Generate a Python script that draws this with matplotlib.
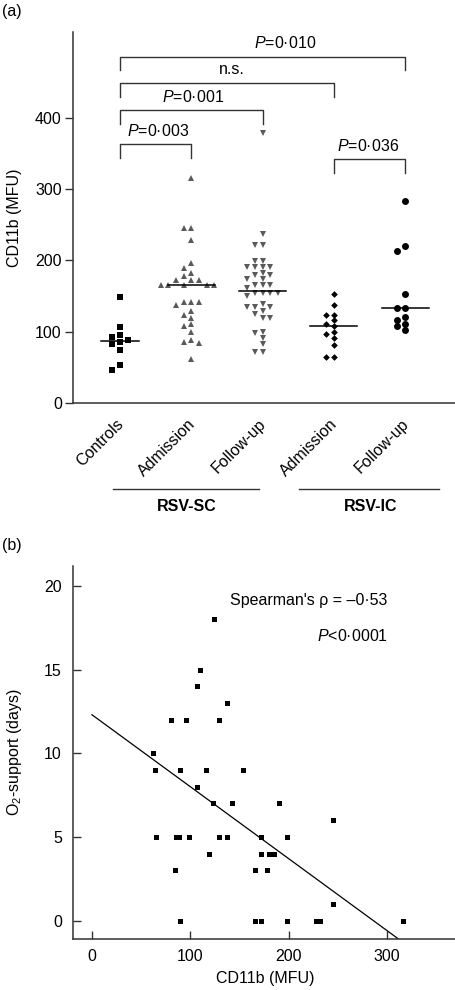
import numpy as np
import matplotlib
matplotlib.use('Agg')
import matplotlib.pyplot as plt
from matplotlib.transforms import ScaledTranslation, blended_transform_factory

plt.rcParams['font.family'] = ['Liberation Sans', 'DejaVu Sans']
plt.rcParams['mathtext.fontset'] = 'custom'
plt.rcParams['mathtext.rm'] = 'Liberation Sans'
plt.rcParams['mathtext.it'] = 'Liberation Sans:italic'
plt.rcParams['font.size'] = 11.5

# ---- dados painel (a): CD11b (MFU) por grupo
grupos = ['Controls', 'Admission', 'Follow-up', 'Admission', 'Follow-up']
controls = [148, 107, 96, 93, 89, 86, 83, 74, 53, 46]
sc_admission = [315, 245, 245, 228, 197, 190, 183, 178, 172, 172, 172, 165, 165, 165, 165,
                165, 142, 142, 142, 138, 129, 124, 119, 111, 108, 99, 89, 86, 84, 62]
sc_followup = [379, 237, 221, 221, 199, 199, 191, 191, 191, 191, 182, 179, 179, 174, 174,
               166, 166, 166, 161, 154, 154, 154, 154, 150, 139, 135, 135, 135, 129, 125,
               119, 119, 100, 98, 91, 82, 72, 72]
ic_admission = [153, 138, 124, 124, 116, 111, 108, 100, 97, 91, 81, 65, 65]
ic_followup = [284, 220, 213, 153, 133, 133, 120, 116, 111, 108, 103]

# comparacoes (grupo i, grupo j, texto)
comp_pares = [(1, 2), (1, 3), (1, 4), (1, 5), (4, 5)]
comp_textos = ['$P$=0·003', '$P$=0·001', 'n.s.', '$P$=0·010', '$P$=0·036']
comp_altura = [363, 411, 449, 486, 342]

# ---- dados painel (b): O2-support vs CD11b
cd11b = [62, 64, 90, 116, 154, 107, 123, 142, 190, 245, 65, 85, 88, 99, 129, 137, 172, 198,
         119, 172, 180, 185, 84, 166, 178, 245, 90, 166, 172, 198, 228, 232, 316,
         124, 110, 107, 137, 80, 96, 129]
o2_dias = [10, 9, 9, 9, 9, 8, 7, 7, 7, 6, 5, 5, 5, 5, 5, 5, 5, 5,
           4, 4, 4, 4, 3, 3, 3, 1, 0, 0, 0, 0, 0, 0, 0,
           18, 15, 14, 13, 12, 12, 12]
reta_intercepto = 12.3
reta_inclinacao = -0.043
reta_x = [0, 313]

fig = plt.figure(figsize=(4.56, 9.9), dpi=100)
cinza_eixo = '#333333'


def swarm_x(ax, xc, vals, dx, dy):
    # espalha os pontos na horizontal para nao sobrepor (em pixels)
    pts = ax.transData.transform(np.column_stack([np.full(len(vals), xc), vals]))
    ordem = np.argsort(vals)[::-1]
    colocados = []
    saida = pts.copy()
    passos = [0] + [s * k for k in range(1, 14) for s in (-1, 1)]
    for i in ordem:
        x0, y0 = pts[i]
        cx = x0
        for k in passos:
            cx = x0 + k * dx / 2
            if all(abs(cx - px) >= dx * 0.95 or abs(y0 - py) >= dy for px, py in colocados):
                break
        colocados.append((cx, y0))
        saida[i, 0] = cx
    return ax.transData.inverted().transform(saida)[:, 0]


# ================= painel (a)
ax = fig.add_axes([0.160, 0.593, 0.838, 0.375])
ax.set_xlim(0.34, 5.70)
ax.set_ylim(0, 521)
for s in ['top', 'right']:
    ax.spines[s].set_visible(False)
for s in ['left', 'bottom']:
    ax.spines[s].set_color(cinza_eixo)
    ax.spines[s].set_linewidth(1.1)

dados = [controls, sc_admission, sc_followup, ic_admission, ic_followup]
marcadores = ['s', '^', 'v', 'D', 'o']
cores = ['black', '#5a5a5a', '#5a5a5a', 'black', 'black']
tamanhos = [4.3, 4.4, 4.4, 3.4, 5.0]
meia_larg = [0.26, 0.33, 0.33, 0.33, 0.33]

for i, vals in enumerate(dados):
    xc = i + 1
    xs = swarm_x(ax, xc, vals, 7.7, 5.0)
    ax.plot(xs, vals, linestyle='none', marker=marcadores[i], color=cores[i],
            markersize=tamanhos[i], markeredgewidth=0)
    med = np.median(vals)
    ax.plot([xc - meia_larg[i], xc + meia_larg[i]], [med, med], color='black', lw=1.1)

# colchetes de comparacao
label_x = [1.53, 2.02, 2.57, 3.32, 4.48]
for (a, b), txt, h, lx in zip(comp_pares, comp_textos, comp_altura, label_x):
    ax.plot([a, a, b, b], [h - 19, h, h, h - 19], color=cinza_eixo, lw=1.0)
    ax.text(lx, h + 19, txt, ha='center', va='center')

ax.set_yticks([0, 100, 200, 300, 400])
ax.tick_params(axis='y', direction='out', length=6, width=1, color=cinza_eixo, pad=2)
ax.set_xticks([1, 2, 3, 4, 5])
ax.set_xticklabels(grupos, rotation=45, ha='right', va='top', rotation_mode='anchor')
ax.tick_params(axis='x', length=0, pad=10)
for lbl in ax.get_xticklabels():
    lbl.set_transform(lbl.get_transform() + ScaledTranslation(-0.04, 0, fig.dpi_scale_trans))
ax.set_ylabel('CD11b (MFU)', va='center')
ax.yaxis.set_label_coords(-0.152, 0.5)

# linhas dos grupos RSV-SC / RSV-IC
tr = blended_transform_factory(ax.transData, ax.transAxes)
ax.plot([0.90, 2.95], [-0.232, -0.232], transform=tr, color=cinza_eixo, lw=1.0, clip_on=False)
ax.plot([3.51, 5.48], [-0.232, -0.232], transform=tr, color=cinza_eixo, lw=1.0, clip_on=False)
ax.text(1.93, -0.278, 'RSV-SC', transform=tr, ha='center', va='center', fontweight='bold')
ax.text(4.51, -0.278, 'RSV-IC', transform=tr, ha='center', va='center', fontweight='bold')

fig.text(0.005, 0.988, '(a)', ha='left', va='center')

# ================= painel (b)
bx = fig.add_axes([0.160, 0.0515, 0.842, 0.377])
bx.set_xlim(-19.3, 371)
bx.set_ylim(-1.1, 21.2)
for s in ['top', 'right']:
    bx.spines[s].set_visible(False)
for s in ['left', 'bottom']:
    bx.spines[s].set_color(cinza_eixo)
    bx.spines[s].set_linewidth(1.1)

bx.plot(cd11b, o2_dias, linestyle='none', marker='s', color='black',
        markersize=3.6, markeredgewidth=0)
rx = np.array(reta_x)
bx.plot(rx, reta_intercepto + reta_inclinacao * rx, color='black', lw=0.9)

bx.set_xticks([0, 100, 200, 300])
bx.set_yticks([0, 5, 10, 15, 20])
bx.tick_params(axis='x', direction='in', length=6, width=1, color=cinza_eixo, pad=7)
bx.tick_params(axis='y', direction='in', length=6, width=1, color=cinza_eixo, pad=8)
bx.set_xlabel('CD11b (MFU)', labelpad=5)
bx.set_ylabel('O$_2$-support (days)', va='center')
bx.yaxis.set_label_coords(-0.152, 0.5)

bx.text(300, 19.1, "Spearman's ρ = –0·53", ha='right', va='center')
bx.text(301, 17.0, '$P$<0·0001', ha='right', va='center')

fig.text(0.005, 0.449, '(b)', ha='left', va='center')

fig.savefig('out.png', dpi=100)
